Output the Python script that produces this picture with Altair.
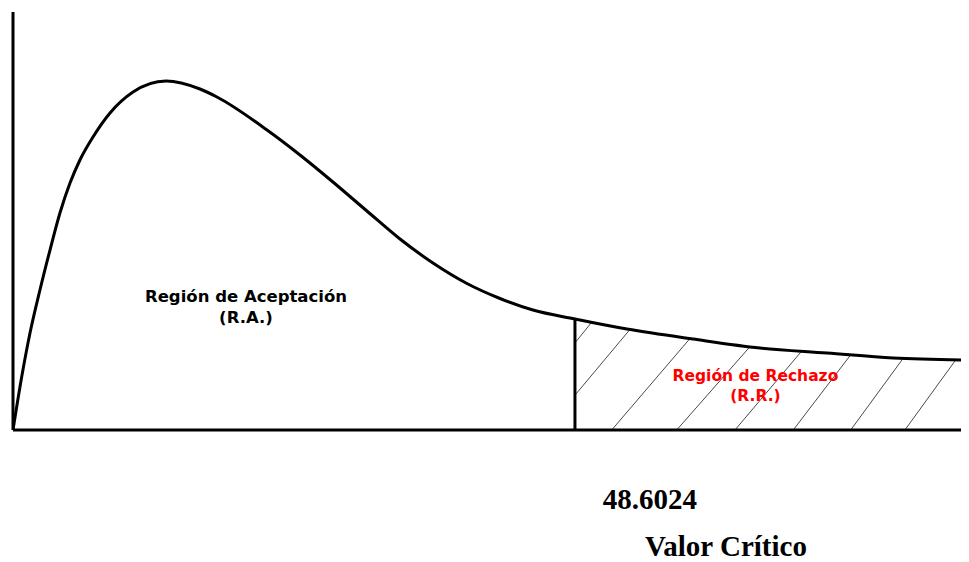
import altair as alt
import numpy as np
import pandas as pd

# ---- data -----------------------------------------------------------------
curve_x = [0.0, 0.75, 1.47, 2.33, 3.20, 4.06, 4.93, 5.79, 6.92, 8.39, 10.38,
           13.23, 16.17, 17.64, 21.97, 24.82, 27.67, 30.61, 33.47, 36.32,
           39.26, 42.12, 44.97, 48.60, 53.10, 58.81, 64.60, 70.40, 76.11, 82.68]
curve_y = [0.0, 12.68, 23.21, 33.49, 43.06, 51.91, 59.09, 64.59, 70.10, 75.84,
           80.86, 83.49, 81.58, 79.67, 71.77, 65.79, 59.33, 52.39, 45.69, 39.95,
           35.05, 31.46, 28.71, 26.56, 24.16, 21.77, 19.62, 18.42, 17.22, 16.75]

CRIT = 48.6024
crit_label = "48.6024"
crit_title = "Valor Crítico"
accept_label = "Región de Aceptación\n(R.A.)"
reject_label = "Región de Rechazo\n(R.R.)"

# hatch lines: where each would meet the baseline, and where it meets the curve
hatch_bottom_x = [42.51, 46.08, 51.78, 57.40, 62.44, 67.48, 72.45, 77.14]
hatch_top_x = [50.05, 53.36, 58.55, 63.74, 68.21, 72.45, 76.99, 81.55]

X_MAX = 82.68      # right end of the drawn curve / baseline
X_VIEW = 81.99     # part of it that fits in the page
Y_MAX = 100.0

# ---- derived tables ---------------------------------------------------------
curve_df = pd.DataFrame({"x": curve_x, "y": curve_y})
crit_y = float(np.interp(CRIT, curve_x, curve_y))

rows = []
for bx, tx in zip(hatch_bottom_x, hatch_top_x):
    ty = float(np.interp(tx, curve_x, curve_y))
    if bx < CRIT:
        x0, y0 = CRIT, ty * (CRIT - bx) / (tx - bx)
    else:
        x0, y0 = bx, 0.0
    rows.append({"x0": x0, "y0": y0, "x1": tx, "y1": ty})
hatch_df = pd.DataFrame(rows)

xs = alt.Scale(domain=[0, X_VIEW], nice=False, zero=False)
ys = alt.Scale(domain=[0, Y_MAX], nice=False, zero=False)

hatch = alt.Chart(hatch_df).mark_rule(stroke="#4a4a4a", strokeWidth=1).encode(
    x=alt.X("x0:Q", scale=xs, axis=None),
    y=alt.Y("y0:Q", scale=ys, axis=None),
    x2="x1:Q",
    y2="y1:Q",
)

curve = alt.Chart(curve_df).mark_line(
    color="black", strokeWidth=3, interpolate="monotone", clip=True
).encode(
    x=alt.X("x:Q", scale=xs, axis=None),
    y=alt.Y("y:Q", scale=ys, axis=None),
)

crit_df = pd.DataFrame({"x": [CRIT], "y": [0.0], "y2": [crit_y]})
crit_line = alt.Chart(crit_df).mark_rule(color="black", strokeWidth=3).encode(
    x="x:Q", y="y:Q", y2="y2:Q"
)

yaxis_df = pd.DataFrame({"x": [0.0], "y": [0.0], "y2": [Y_MAX]})
yaxis = alt.Chart(yaxis_df).mark_rule(color="black", strokeWidth=3).encode(
    x="x:Q", y="y:Q", y2="y2:Q"
)
xaxis_df = pd.DataFrame({"x": [0.0], "x2": [X_MAX], "y": [0.0]})
xaxis = alt.Chart(xaxis_df).mark_rule(color="black", strokeWidth=3, clip=False).encode(
    x="x:Q", x2="x2:Q", y="y:Q"
)

acc_df = pd.DataFrame({"x": [20.15], "y": [30.6], "t": [accept_label]})
acc_text = alt.Chart(acc_df).mark_text(
    font="DejaVu Sans", fontSize=16.5, fontWeight="bold", color="black",
    align="center", baseline="alphabetic", lineBreak="\n", lineHeight=21,
).encode(x="x:Q", y="y:Q", text="t:N")

rej_df = pd.DataFrame({"x": [64.21], "y": [11.72], "t": [reject_label]})
rej_text = alt.Chart(rej_df).mark_text(
    font="DejaVu Sans", fontSize=15.5, fontWeight="bold", color="#ff0000",
    align="center", baseline="alphabetic", lineBreak="\n", lineHeight=20,
).encode(x="x:Q", y="y:Q", text="t:N")

val_df = pd.DataFrame({"x": [CRIT], "y": [0.0], "t": [crit_label]})
val_text = alt.Chart(val_df).mark_text(
    font="Liberation Serif", fontSize=29, fontWeight="bold", color="black",
    align="center", baseline="alphabetic", dx=75, dy=79,
).encode(x="x:Q", y="y:Q", text="t:N")

tit_df = pd.DataFrame({"x": [CRIT], "y": [0.0], "t": [crit_title]})
tit_text = alt.Chart(tit_df).mark_text(
    font="Liberation Serif", fontSize=29, fontWeight="bold", color="black",
    align="center", baseline="alphabetic", dx=151, dy=126,
).encode(x="x:Q", y="y:Q", text="t:N")

chart = alt.layer(
    hatch, curve, crit_line, yaxis, xaxis, acc_text, rej_text, val_text, tit_text
).properties(
    width=948,
    height=418,
    autosize=alt.AutoSizeParams(type="none"),
    padding={"left": 5, "top": 4, "right": 0, "bottom": 132},
    background="white",
).configure_view(stroke=None)

chart.save("out.html", embed_options={"renderer": "svg", "actions": False})
